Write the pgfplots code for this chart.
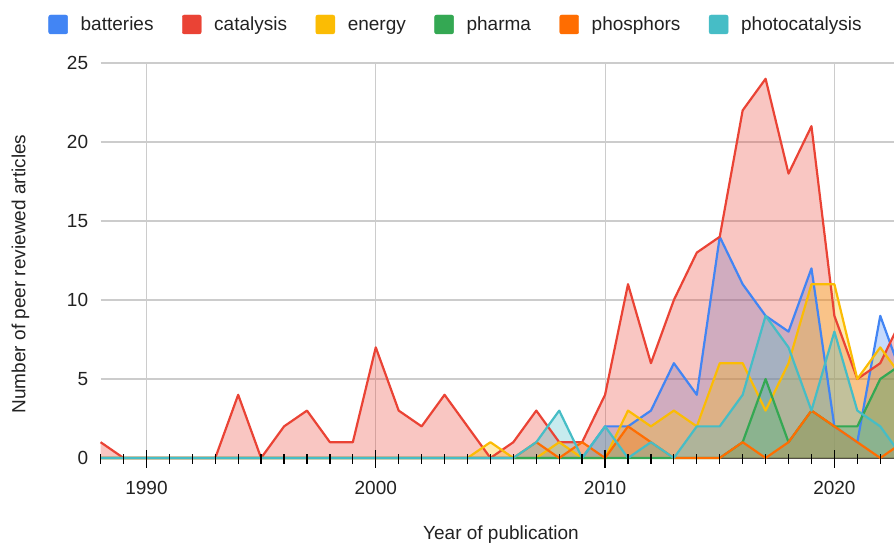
\documentclass[border=0pt]{standalone}
\usepackage{pgfplots}
\usepackage{pgfplotstable}
\pgfplotsset{compat=1.18}
\usepackage{fontspec}
\setmainfont{Liberation Sans}
\definecolor{cBat}{HTML}{4285F4}
\definecolor{cCat}{HTML}{EA4335}
\definecolor{cEne}{HTML}{FBBC04}
\definecolor{cPha}{HTML}{34A853}
\definecolor{cPho}{HTML}{FF6D01}
\definecolor{cPhc}{HTML}{46BDC6}
\definecolor{gridgray}{HTML}{CCCCCC}
\definecolor{txt}{HTML}{222222}
\newcommand\f{\fontsize{19bp}{23bp}\selectfont}

\pgfplotstableread{
year bat cat ene pha pho phc
1988 0 1 0 0 0 0
1989 0 0 0 0 0 0
1990 0 0 0 0 0 0
1991 0 0 0 0 0 0
1992 0 0 0 0 0 0
1993 0 0 0 0 0 0
1994 0 4 0 0 0 0
1995 0 0 0 0 0 0
1996 0 2 0 0 0 0
1997 0 3 0 0 0 0
1998 0 1 0 0 0 0
1999 0 1 0 0 0 0
2000 0 7 0 0 0 0
2001 0 3 0 0 0 0
2002 0 2 0 0 0 0
2003 0 4 0 0 0 0
2004 0 2 0 0 0 0
2005 0 0 1 0 0 0
2006 0 1 0 0 0 0
2007 0 3 0 0 1 1
2008 0 1 1 0 0 3
2009 0 1 0 0 1 0
2010 2 4 0 0 0 2
2011 2 11 3 0 2 0
2012 3 6 2 0 1 1
2013 6 10 3 0 0 0
2014 4 13 2 0 0 2
2015 14 14 6 0 0 2
2016 11 22 6 1 1 4
2017 9 24 3 5 0 9
2018 8 18 6 1 1 7
2019 12 21 11 3 3 3
2020 2 9 11 2 2 8
2021 1 5 5 2 1 3
2022 9 6 7 5 0 2
2023 5 9 5 6 1 0
}\data

\pgfplotsset{
  sq/.style={legend image code/.code={%
    \fill[#1, rounded corners=2bp] (0bp,-9.5bp) rectangle (19bp,9.5bp);
    \path[draw=none, fill=none] (0bp,0bp) -- (32bp,0bp);}},
  tickband/.style={anchor=south west, scale only axis, width=793.4bp,
    xmin=1988, xmax=2022.6, ymin=0, ymax=1, ytick=\empty, xticklabels={},
    xmajorgrids, major grid style={black, line width=1.3bp},
    axis line style={draw=none}, tick style={draw=none}}
}

\begin{document}
\begin{tikzpicture}
\path[use as bounding box] (0,0) rectangle (894bp,543bp);
\begin{axis}[
  at={(100.6bp,85bp)}, anchor=south west,
  scale only axis, width=793.4bp, height=395bp,
  xmin=1988, xmax=2022.6, ymin=0, ymax=25,
  clip=false,
  xtick={1990,2000,2010,2020},
  ytick={0,5,...,25},
  grid=major,
  major grid style={draw=gridgray, line width=1.1bp},
  axis x line*=bottom, axis y line*=left,
  y axis line style={draw=none},
  x axis line style={black!75, line width=1.2bp},
  tick align=center, xtick align=center,
  major tick length=18bp,
  xtick style={draw=none},
  ytick style={draw=none},
  /pgf/number format/assume math mode=true,
  ticklabel style={font=\f, text=txt},
  x tick label style={/pgf/number format/1000 sep={}, yshift=-11bp},
  xlabel={Year of publication},
  ylabel={Number of peer reviewed articles},
  every axis x label/.style={at={(axis description cs:0.5047,-0.1949)}, anchor=center, font=\f, text=txt},
  every axis y label/.style={at={(axis description cs:-0.101,0.466)}, rotate=90, anchor=center, font=\f, text=txt},
  legend columns=6,
  legend cell align=left,
  legend style={at={(axis description cs:0.4467,1.0975)}, anchor=center, draw=none, fill=none, font=\f, text=txt,
    inner sep=0pt, nodes={inner sep=0pt, text height=14bp, text depth=2bp},
    /tikz/every even column/.append style={column sep=28.5bp}},
]
\addplot[draw=none, fill=cBat, fill opacity=0.3, forget plot] table[x=year,y=bat]{\data} \closedcycle;
\addplot[draw=none, fill=cCat, fill opacity=0.3, forget plot] table[x=year,y=cat]{\data} \closedcycle;
\addplot[draw=none, fill=cEne, fill opacity=0.3, forget plot] table[x=year,y=ene]{\data} \closedcycle;
\addplot[draw=none, fill=cPha, fill opacity=0.3, forget plot] table[x=year,y=pha]{\data} \closedcycle;
\addplot[draw=none, fill=cPho, fill opacity=0.3, forget plot] table[x=year,y=pho]{\data} \closedcycle;
\addplot[draw=none, fill=cPhc, fill opacity=0.3, forget plot] table[x=year,y=phc]{\data} \closedcycle;
\addplot[cBat, line width=2.2bp, line join=round, no marks, forget plot] table[x=year,y=bat]{\data};
\addplot[cCat, line width=2.2bp, line join=round, no marks, forget plot] table[x=year,y=cat]{\data};
\addplot[cEne, line width=2.2bp, line join=round, no marks, forget plot] table[x=year,y=ene]{\data};
\addplot[cPha, line width=2.2bp, line join=round, no marks, forget plot] table[x=year,y=pha]{\data};
\addplot[cPho, line width=2.2bp, line join=round, no marks, forget plot] table[x=year,y=pho]{\data};
\addplot[cPhc, line width=2.2bp, line join=round, no marks, forget plot] table[x=year,y=phc]{\data};
\addlegendimage{sq=cBat}
\addlegendentry{batteries}
\addlegendimage{sq=cCat}
\addlegendentry{catalysis}
\addlegendimage{sq=cEne}
\addlegendentry{energy}
\addlegendimage{sq=cPha}
\addlegendentry{pharma}
\addlegendimage{sq=cPho}
\addlegendentry{phosphors}
\addlegendimage{sq=cPhc}
\addlegendentry{photocatalysis}
\end{axis}
% tick marks: major (decades) and minor (years), as grid bands over the baseline
\begin{axis}[tickband, at={(100.6bp,75bp)}, height=18bp, xtick={1990,2000,2010,2020}]
\end{axis}
\begin{axis}[tickband, at={(100.6bp,79bp)}, height=10bp, xtick={1988,...,2022}]
\end{axis}
\end{tikzpicture}
\end{document}
